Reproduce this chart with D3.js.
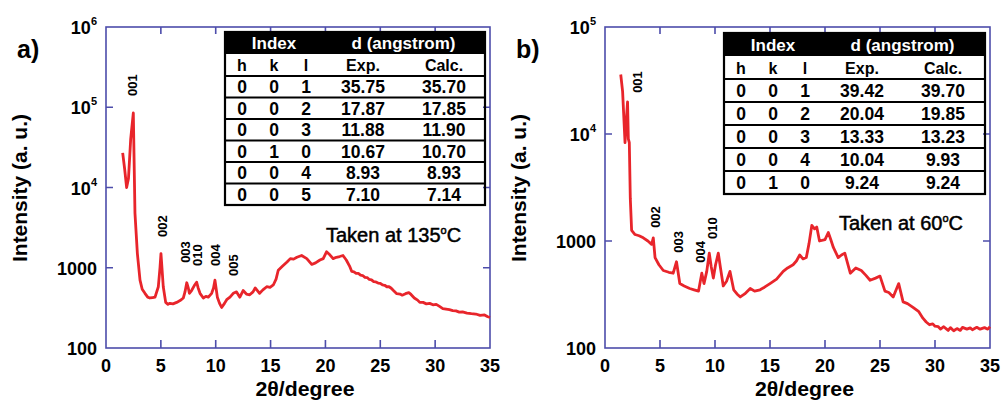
<!DOCTYPE html>
<html>
<head>
<meta charset="utf-8">
<script src="https://cdn.jsdelivr.net/npm/d3@7"></script>
<style>
  body { margin: 0; background: #fff; }
  svg text { font-family: "Liberation Sans", Arial, sans-serif; font-weight: bold; }
</style>
</head>
<body>
<div id="chart"></div>
<script>
// ---- data: panel a (135 C) ----
var thetaA = [1.52, 1.7, 1.88, 2.05, 2.25, 2.49, 2.64, 2.86, 3.1, 3.3, 3.55, 3.8, 4.0, 4.25, 4.47, 4.77, 4.92, 5.01, 5.1, 5.22, 5.44, 5.65, 5.83, 6.1, 6.44, 6.75, 7.05, 7.2, 7.36, 7.5, 7.6, 7.8, 8.05, 8.26, 8.4, 8.57, 8.87, 9.1, 9.33, 9.63, 9.8, 9.93, 10.15, 10.35, 10.54, 10.8, 11.0, 11.3, 11.6, 11.9, 12.2, 12.5, 12.8, 13.1, 13.4, 13.6, 13.8, 14.0, 14.3, 14.65, 14.95, 15.25, 15.5, 15.7, 16.1, 16.5, 16.8, 17.1, 17.4, 17.83, 18.3, 18.75, 19.1, 19.5, 19.8, 20.1, 20.4, 20.7, 21.0, 21.3, 21.6, 21.9, 22.2, 22.4, 22.6, 22.8, 23.0, 23.2, 23.4, 23.6, 23.8, 24.0, 24.2, 24.4, 24.6, 24.8, 25.0, 25.2, 25.4, 25.6, 25.8, 26.0, 26.2, 26.5, 26.8, 27.0, 27.3, 27.6, 27.8, 28.1, 28.4, 28.6, 28.9, 29.2, 29.5, 29.8, 30.1, 30.4, 30.7, 31.0, 31.3, 31.6, 31.9, 32.2, 32.5, 32.9, 33.3, 33.7, 34.1, 34.5, 34.8, 35.0];
var intA   = [27000, 17000, 10000, 13000, 40000, 85000, 4800, 1500, 700, 540, 480, 430, 420, 425, 430, 580, 1000, 1500, 1000, 580, 370, 350, 360, 355, 370, 390, 420, 500, 650, 560, 480, 520, 600, 660, 560, 480, 420, 440, 430, 480, 560, 700, 430, 360, 320, 360, 400, 430, 480, 500, 430, 520, 470, 460, 500, 560, 520, 480, 530, 580, 570, 610, 720, 930, 1050, 1180, 1300, 1280, 1350, 1420, 1300, 1100, 1150, 1250, 1300, 1580, 1450, 1300, 1350, 1380, 1420, 1250, 1050, 900, 890, 850, 850, 810, 800, 760, 755, 715, 705, 670, 665, 645, 640, 610, 605, 580, 580, 555, 520, 475, 470, 455, 475, 490, 465, 420, 395, 370, 370, 355, 360, 345, 350, 330, 310, 305, 300, 292, 290, 280, 282, 272, 268, 265, 255, 258, 245, 240];
var peaksA = [["001", 2.4, 189000], ["002", 5.1, 3300], ["003", 7.2, 1570], ["010", 8.3, 1440], ["004", 9.9, 1440], ["005", 11.6, 1080]];
var tableA = [["0", "0", "1", "35.75", "35.70"], ["0", "0", "2", "17.87", "17.85"], ["0", "0", "3", "11.88", "11.90"], ["0", "1", "0", "10.67", "10.70"], ["0", "0", "4", "8.93", "8.93"], ["0", "0", "5", "7.10", "7.14"]];

// ---- data: panel b (60 C) ----
var thetaB = [1.43, 1.6, 1.82, 1.95, 2.05, 2.12, 2.21, 2.3, 2.42, 2.73, 3.1, 3.48, 3.9, 4.24, 4.39, 4.55, 4.9, 5.3, 5.8, 6.2, 6.5, 6.8, 7.2, 7.7, 8.1, 8.5, 8.8, 9.0, 9.25, 9.48, 9.65, 9.85, 10.05, 10.3, 10.5, 10.75, 11.05, 11.36, 11.7, 12.0, 12.3, 12.7, 13.2, 13.6, 14.1, 14.5, 15.0, 15.6, 16.2, 16.6, 17.1, 17.4, 17.7, 18.0, 18.3, 18.55, 18.8, 19.05, 19.25, 19.5, 20.0, 20.3, 20.5, 20.76, 21.2, 21.5, 21.8, 22.3, 22.8, 23.3, 23.7, 24.1, 24.6, 25.0, 25.45, 25.8, 26.2, 26.7, 27.1, 27.5, 28.0, 28.5, 28.9, 29.2, 29.5, 29.8, 30.0, 30.3, 30.5, 30.8, 31.0, 31.2, 31.4, 31.7, 32.0, 32.3, 32.5, 32.9, 33.2, 33.4, 33.8, 34.1, 34.5, 34.8, 35.0];
var intB   = [36000, 25000, 8300, 14000, 20000, 9000, 8300, 2500, 1260, 1150, 1120, 1070, 1000, 930, 1070, 700, 600, 530, 510, 500, 640, 400, 380, 360, 350, 340, 500, 400, 520, 770, 580, 450, 600, 770, 560, 380, 420, 520, 350, 320, 300, 320, 360, 340, 350, 370, 400, 440, 520, 560, 600, 650, 740, 680, 700, 950, 1400, 1300, 1350, 1000, 1030, 1200, 1050, 870, 700, 740, 770, 500, 560, 530, 480, 430, 450, 470, 340, 330, 300, 400, 270, 260, 240, 220, 190, 175, 165, 168, 160, 158, 150, 158, 152, 146, 155, 145, 152, 146, 156, 150, 154, 148, 156, 150, 155, 150, 158];
var peaksB = [["001", 2.9, 30600], ["002", 4.5, 1675], ["003", 6.6, 980], ["004", 8.6, 790], ["010", 9.7, 1320]];
var tableB = [["0", "0", "1", "39.42", "39.70"], ["0", "0", "2", "20.04", "19.85"], ["0", "0", "3", "13.33", "13.23"], ["0", "0", "4", "10.04", "9.93"], ["0", "1", "0", "9.24", "9.24"]];

var xTicks = [0, 5, 10, 15, 20, 25, 30, 35];

var svg = d3.select("#chart").append("svg")
    .attr("width", 1001)
    .attr("height", 402);

var red = "#e8252b", blue = "#4d4dab";

function supLabel(sel, d) {
  var p = Math.round(Math.log10(d));
  if (p <= 3) {
    sel.text(d3.format("d")(d));
  } else {
    sel.text("10");
    sel.append("tspan").attr("dy", -9).attr("font-size", 11).text(p);
  }
}

function panel(cfg) {
  var g = svg.append("g");
  var x = d3.scaleLinear().domain([0, 35]).range([cfg.left, cfg.right]);
  var y = d3.scaleLog().domain(cfg.yDomain).range([348, 27]);
  var yTicks = d3.range(Math.log10(cfg.yDomain[0]), Math.log10(cfg.yDomain[1]) + 1).map(p => Math.pow(10, p));

  // frame
  g.append("rect")
    .attr("x", cfg.left).attr("y", 27)
    .attr("width", cfg.right - cfg.left).attr("height", 321)
    .attr("fill", "none").attr("stroke", blue).attr("stroke-width", 1.6);

  // ticks inside, all four sides
  g.selectAll(".xt").data(xTicks.slice(1, -1)).enter().append("path")
    .attr("d", d => `M${x(d)},348v-8M${x(d)},27v7`)
    .attr("stroke", blue).attr("stroke-width", 1.6);
  g.selectAll(".yt").data(yTicks.slice(1, -1)).enter().append("path")
    .attr("d", d => `M${cfg.left},${y(d)}h7M${cfg.right},${y(d)}h-7`)
    .attr("stroke", blue).attr("stroke-width", 1.6);

  // tick labels
  g.selectAll(".xl").data(xTicks).enter().append("text")
    .attr("x", d => x(d)).attr("y", 372)
    .attr("text-anchor", "middle").attr("font-size", 18)
    .text(d => d);
  g.selectAll(".yl").data(yTicks).enter().append("text")
    .attr("x", cfg.left - 9).attr("y", d => y(d) + 7)
    .attr("text-anchor", "end").attr("font-size", 18)
    .each(function(d) { supLabel(d3.select(this), d); });

  // axis titles
  g.append("text")
    .attr("transform", `translate(${cfg.left - 79},188) rotate(-90)`)
    .attr("text-anchor", "middle").attr("font-size", 21)
    .attr("textLength", 148).attr("lengthAdjust", "spacingAndGlyphs")
    .text("Intensity (a. u.)");
  g.append("text")
    .attr("x", (cfg.left + cfg.right) / 2 + 7).attr("y", 396)
    .attr("text-anchor", "middle").attr("font-size", 21)
    .attr("textLength", 99).attr("lengthAdjust", "spacingAndGlyphs")
    .text("2θ/degree");

  // panel letter
  g.append("text")
    .attr("x", cfg.left - 89).attr("y", 58)
    .attr("font-size", 25)
    .text(cfg.letter);

  // curve
  var line = d3.line().x(d => x(d[0])).y(d => y(d[1]));
  g.append("path")
    .datum(cfg.theta.map((t, i) => [t, cfg.inten[i]]))
    .attr("d", line)
    .attr("fill", "none").attr("stroke", red)
    .attr("stroke-width", 2.8).attr("stroke-linejoin", "round");

  // peak labels
  g.selectAll(".pk").data(cfg.peaks).enter().append("text")
    .attr("transform", d => `translate(${x(d[1]) + 5},${y(d[2])}) rotate(-90)`)
    .attr("text-anchor", "middle").attr("font-size", 13)
    .text(d => d[0]);

  // temperature note
  var note = g.append("text")
    .attr("x", cfg.noteX).attr("y", cfg.noteY)
    .attr("font-size", 20)
    .style("font-weight", "normal")
    .attr("stroke", "#000").attr("stroke-width", 0.5);
  note.append("tspan").text(cfg.note);
  note.append("tspan").attr("dy", -8).attr("font-size", 11).text("o");
  note.append("tspan").attr("dy", 8).text("C");

  // table
  var t = cfg.table;
  var tx0 = t.x0, tx1 = t.x1, ty0 = t.y0, rh = t.rh, hh = t.hh;
  var cols = [tx0 + 17, tx0 + 49, tx0 + 81, tx0 + 138, tx0 + 219];
  var nRows = cfg.rows.length;
  var ty1 = ty0 + hh * 2 + rh * nRows;
  var tg = g.append("g");
  tg.append("rect").attr("x", tx0).attr("y", ty0).attr("width", tx1 - tx0).attr("height", hh)
    .attr("fill", "#000");
  tg.append("rect").attr("x", tx0).attr("y", ty0).attr("width", tx1 - tx0).attr("height", ty1 - ty0)
    .attr("fill", "none").attr("stroke", "#000").attr("stroke-width", 2.2);
  tg.selectAll(".hl").data(d3.range(nRows)).enter().append("line")
    .attr("x1", tx0).attr("x2", tx1)
    .attr("y1", i => ty0 + hh * 2 + rh * i)
    .attr("y2", i => ty0 + hh * 2 + rh * i)
    .attr("stroke", "#000").attr("stroke-width", 2.2);
  tg.append("text").attr("x", cols[1]).attr("y", ty0 + hh / 2 + 6)
    .attr("text-anchor", "middle").attr("font-size", 17).attr("fill", "#fff").text("Index");
  tg.append("text").attr("x", (cols[3] + cols[4]) / 2).attr("y", ty0 + hh / 2 + 6)
    .attr("text-anchor", "middle").attr("font-size", 17).attr("fill", "#fff").text("d (angstrom)");
  ["h", "k", "l", "Exp.", "Calc."].forEach((s, i) => {
    tg.append("text").attr("x", cols[i]).attr("y", ty0 + hh + hh / 2 + 6)
      .attr("text-anchor", "middle").attr("font-size", 16).text(s);
  });
  cfg.rows.forEach((r, j) => {
    r.forEach((s, i) => {
      tg.append("text").attr("x", cols[i]).attr("y", ty0 + hh * 2 + rh * j + rh / 2 + 6.5)
        .attr("text-anchor", "middle").attr("font-size", 17.5).text(s);
    });
  });
}

panel({
  left: 106, right: 490, yDomain: [100, 1e6], letter: "a)",
  theta: thetaA, inten: intA, peaks: peaksA,
  note: "Taken at 135", noteX: 326, noteY: 242,
  table: {x0: 225, x1: 485, y0: 32, hh: 22, rh: 21.5}, rows: tableA
});

panel({
  left: 605, right: 990, yDomain: [100, 1e5], letter: "b)",
  theta: thetaB, inten: intB, peaks: peaksB,
  note: "Taken at 60", noteX: 839, noteY: 230,
  table: {x0: 724, x1: 985, y0: 33, hh: 23, rh: 23}, rows: tableB
});
</script>
</body>
</html>
